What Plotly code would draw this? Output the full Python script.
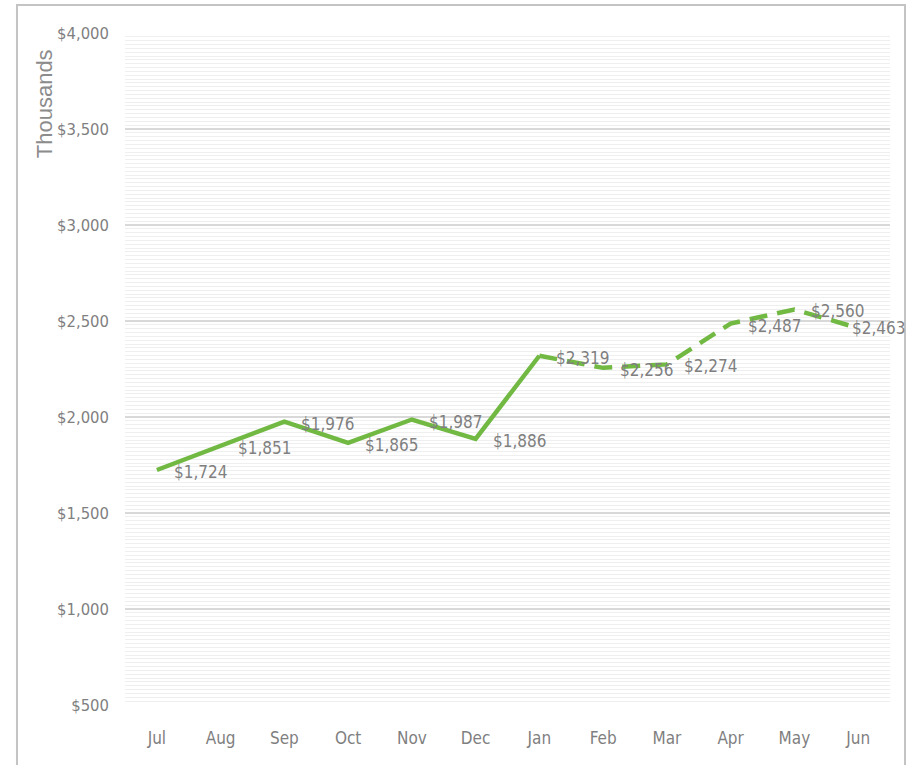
import plotly.graph_objects as go

# Monthly totals, in thousands of dollars
months = ["Jul", "Aug", "Sep", "Oct", "Nov", "Dec", "Jan", "Feb", "Mar", "Apr", "May", "Jun"]
values = [1724, 1851, 1976, 1865, 1987, 1886, 2319, 2256, 2274, 2487, 2560, 2463]
actual_count = 7  # Jul..Jan are actuals, Jan..Jun forecast

y_ticks = [500, 1000, 1500, 2000, 2500, 3000, 3500, 4000]
y_tick_labels = [f"${v:,}" for v in y_ticks]

GREEN = "#72b944"
GREY_TEXT = "#7f7f7f"
NARROW = "Liberation Sans Narrow, DejaVu Sans Condensed, sans-serif"

fig = go.Figure()

# Solid actuals segment
fig.add_trace(go.Scatter(
    x=months[:actual_count], y=values[:actual_count],
    mode="lines", line=dict(color=GREEN, width=4.5),
    hoverinfo="skip", showlegend=False,
))
# Dashed forecast segment
fig.add_trace(go.Scatter(
    x=months[actual_count - 1:], y=values[actual_count - 1:],
    mode="lines", line=dict(color=GREEN, width=4.5, dash="18px,10px"),
    hoverinfo="skip", showlegend=False,
))

# Data labels to the right of each point; the last one is pulled back inside the chart
for i, (m, v) in enumerate(zip(months, values)):
    last = i == len(months) - 1
    fig.add_annotation(
        x=m, y=v, text=f"${v:,}", showarrow=False,
        xanchor="left", yanchor="middle",
        xshift=-8 if last else 15, yshift=0 if last else -2,
        font=dict(family=NARROW, size=17, color=GREY_TEXT),
    )

# Axis title placed near the top of the value axis
fig.add_annotation(
    xref="paper", yref="paper", x=-0.105, y=0.895,
    text="Thousands", textangle=-90, showarrow=False,
    xanchor="center", yanchor="middle",
    font=dict(family="Liberation Sans, Arial, sans-serif", size=22, color="#8c8c8c"),
)

# Outer chart border
fig.add_shape(
    type="rect", xref="paper", yref="paper",
    x0=-0.1412, x1=1.0196, y0=-0.1, y1=1.0417,
    line=dict(color="#c4c4c4", width=2), fillcolor="rgba(0,0,0,0)", layer="below",
)

fig.update_layout(
    width=910, height=765,
    margin=dict(l=125, r=20, t=33, b=60),
    paper_bgcolor="white", plot_bgcolor="white",
    xaxis=dict(
        type="category", categoryorder="array", categoryarray=months,
        range=[-0.5, len(months) - 0.5],
        showgrid=False, zeroline=False, showline=False,
        ticks="", ticklabelstandoff=21,
        tickfont=dict(family=NARROW, size=17, color=GREY_TEXT),
    ),
    yaxis=dict(
        range=[500, 4000], tickmode="array", tickvals=y_ticks, ticktext=y_tick_labels,
        showgrid=True, gridcolor="#d9d9d9", gridwidth=1.5,
        minor=dict(dtick=20, showgrid=True, gridcolor="#efefef", gridwidth=1),
        zeroline=False, showline=False, ticks="", ticklabelstandoff=15,
        tickfont=dict(family=NARROW, size=16.5, color=GREY_TEXT),
    ),
)

fig.write_html("out.html")
